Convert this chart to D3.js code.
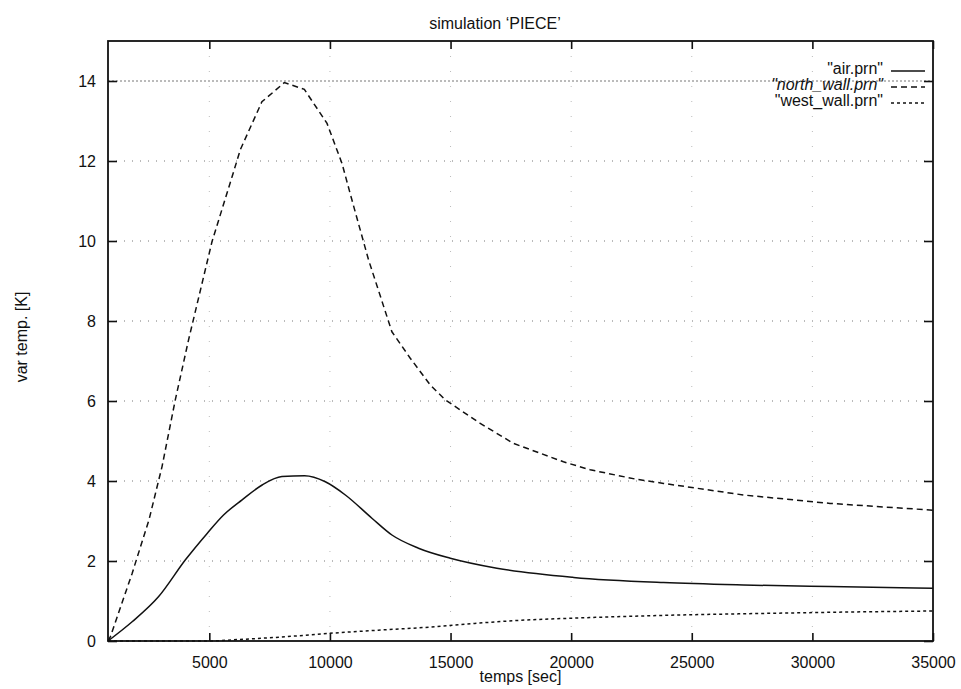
<!DOCTYPE html>
<html>
<head>
<meta charset="utf-8">
<script src="https://d3js.org/d3.v7.min.js"></script>
<style>
  body { margin: 0; background: #fff; }
  text { font-family: "Liberation Sans", Arial, sans-serif; fill: #111; }
</style>
</head>
<body>
<div id="chart"></div>
<script>
// data: [time (s), temperature change (K)]
var airData = [[800,0],[1800,0.48],[2900,1.11],[4010,2.03],[4910,2.69],[5590,3.15],[6360,3.53],
  [7190,3.9],[8010,4.11],[8950,4.13],[9810,3.98],[10640,3.65],[11740,3.07],[12570,2.65],
  [13670,2.32],[14990,2.07],[16920,1.82],[20100,1.59],[23830,1.46],[27140,1.4],[30730,1.36],[35000,1.32]];
var northData = [[800,0],[900,0.11],[1800,1.69],[2500,3.03],[3040,4.36],[3590,6.03],[4140,7.53],
  [5110,9.98],[5940,11.6],[6290,12.29],[7180,13.48],[8110,13.96],[8940,13.79],[9880,12.94],
  [10500,11.94],[10910,11.03],[11600,9.53],[12570,7.73],[13330,7.07],[14160,6.4],[14780,6.03],
  [16230,5.44],[17610,4.94],[19680,4.48],[20790,4.28],[22730,4.04],[23830,3.94],[27140,3.65],
  [30730,3.44],[35000,3.27]];
var westData = [[800,0],[5000,0],[6000,0.03],[8000,0.1],[9950,0.19],[12000,0.27],[14200,0.35],
  [16000,0.44],[18300,0.53],[20000,0.57],[23800,0.64],[28000,0.69],[31000,0.72],[35000,0.75]];

var seriesNames = ['"air.prn"', '"north_wall.prn"', '"west_wall.prn"'];
var seriesDash = [null, "6,4", "3,3"];
var xTicks = [5000, 10000, 15000, 20000, 25000, 30000, 35000];
var yTicks = [0, 2, 4, 6, 8, 10, 12, 14];

var margin = {top: 41, right: 28, bottom: 48, left: 108},
    W = 961, H = 689,
    width = W - margin.left - margin.right,
    height = H - margin.top - margin.bottom;

var svg = d3.select("#chart").append("svg")
    .attr("width", W).attr("height", H);

var g = svg.append("g")
    .attr("transform", "translate(" + margin.left + "," + margin.top + ")");

var x = d3.scaleLinear().domain([800, 35000]).range([0, width]);
var y = d3.scaleLinear().domain([0, 15]).range([height, 0]);

// grid
g.append("g").selectAll("line").data(yTicks.filter(function(d){ return d > 0; }))
  .enter().append("line")
    .attr("x1", 0).attr("x2", width)
    .attr("y1", function(d){ return y(d); }).attr("y2", function(d){ return y(d); })
    .attr("stroke", "#777").attr("stroke-width", 1)
    .attr("stroke-dasharray", function(d){ return d === 14 ? "2,2" : "1,7"; });
g.append("g").selectAll("line").data(xTicks.slice(0, -1))
  .enter().append("line")
    .attr("x1", function(d){ return x(d); }).attr("x2", function(d){ return x(d); })
    .attr("y1", 0).attr("y2", height)
    .attr("stroke", "#bbb").attr("stroke-width", 1)
    .attr("stroke-dasharray", "1,14");

// axes: ticks inside, mirrored on top/right
var fmt = d3.format("d");
g.append("g").attr("transform", "translate(0," + height + ")")
  .call(d3.axisBottom(x).tickValues(xTicks).tickFormat(fmt).tickSizeInner(-8).tickSizeOuter(0).tickPadding(16))
  .call(function(a){ a.select(".domain").remove(); a.selectAll("text").attr("font-size", 16); });
g.append("g")
  .call(d3.axisTop(x).tickValues(xTicks).tickFormat("").tickSizeInner(-8).tickSizeOuter(0))
  .call(function(a){ a.select(".domain").remove(); });
g.append("g")
  .call(d3.axisLeft(y).tickValues(yTicks).tickFormat(fmt).tickSizeInner(-9).tickSizeOuter(0).tickPadding(12))
  .call(function(a){ a.select(".domain").remove(); a.selectAll("text").attr("font-size", 16); });
g.append("g").attr("transform", "translate(" + width + ",0)")
  .call(d3.axisRight(y).tickValues(yTicks).tickFormat("").tickSizeInner(-9).tickSizeOuter(0))
  .call(function(a){ a.select(".domain").remove(); });
g.selectAll(".tick line").attr("stroke", "#111").attr("stroke-width", 1.6);

// frame
g.append("rect").attr("width", width).attr("height", height)
  .attr("fill", "none").attr("stroke", "#111").attr("stroke-width", 1.8);

// curves (air and west wall are smooth, north wall shows its kinks)
var smooth = d3.line().curve(d3.curveMonotoneX)
  .x(function(d){ return x(d[0]); }).y(function(d){ return y(d[1]); });
var straight = d3.line()
  .x(function(d){ return x(d[0]); }).y(function(d){ return y(d[1]); });
var allData = [airData, northData, westData];
g.append("g").selectAll("path").data(allData).enter().append("path")
  .attr("d", function(d, i){ return i === 1 ? straight(d) : smooth(d); })
  .attr("fill", "none").attr("stroke", "#111").attr("stroke-width", 1.5)
  .attr("stroke-dasharray", function(d, i){ return seriesDash[i]; });

// legend
var leg = g.append("g").selectAll("g").data(seriesNames).enter().append("g")
  .attr("transform", function(d, i){ return "translate(0," + (27 + i * 16) + ")"; });
leg.append("text").attr("x", width - 50).attr("y", 0).attr("dy", "0.35em")
  .attr("text-anchor", "end").attr("font-size", 16)
  .attr("font-style", function(d, i){ return i === 1 ? "italic" : null; })
  .text(function(d){ return d; });
leg.append("line").attr("x1", width - 42).attr("x2", width - 8)
  .attr("y1", 3).attr("y2", 3)
  .attr("stroke", "#111").attr("stroke-width", 1.4)
  .attr("stroke-dasharray", function(d, i){ return seriesDash[i]; });

// title and labels
svg.append("text").attr("x", 495).attr("y", 29).attr("text-anchor", "middle")
  .attr("font-size", 16).text("simulation \u2018PIECE\u2019");
svg.append("text").attr("x", margin.left + width / 2).attr("y", 682).attr("text-anchor", "middle")
  .attr("font-size", 16).text("temps [sec]");
svg.append("text").attr("transform", "translate(27,337) rotate(-90)").attr("text-anchor", "middle")
  .attr("font-size", 16).text("var temp. [K]");
</script>
</body>
</html>
